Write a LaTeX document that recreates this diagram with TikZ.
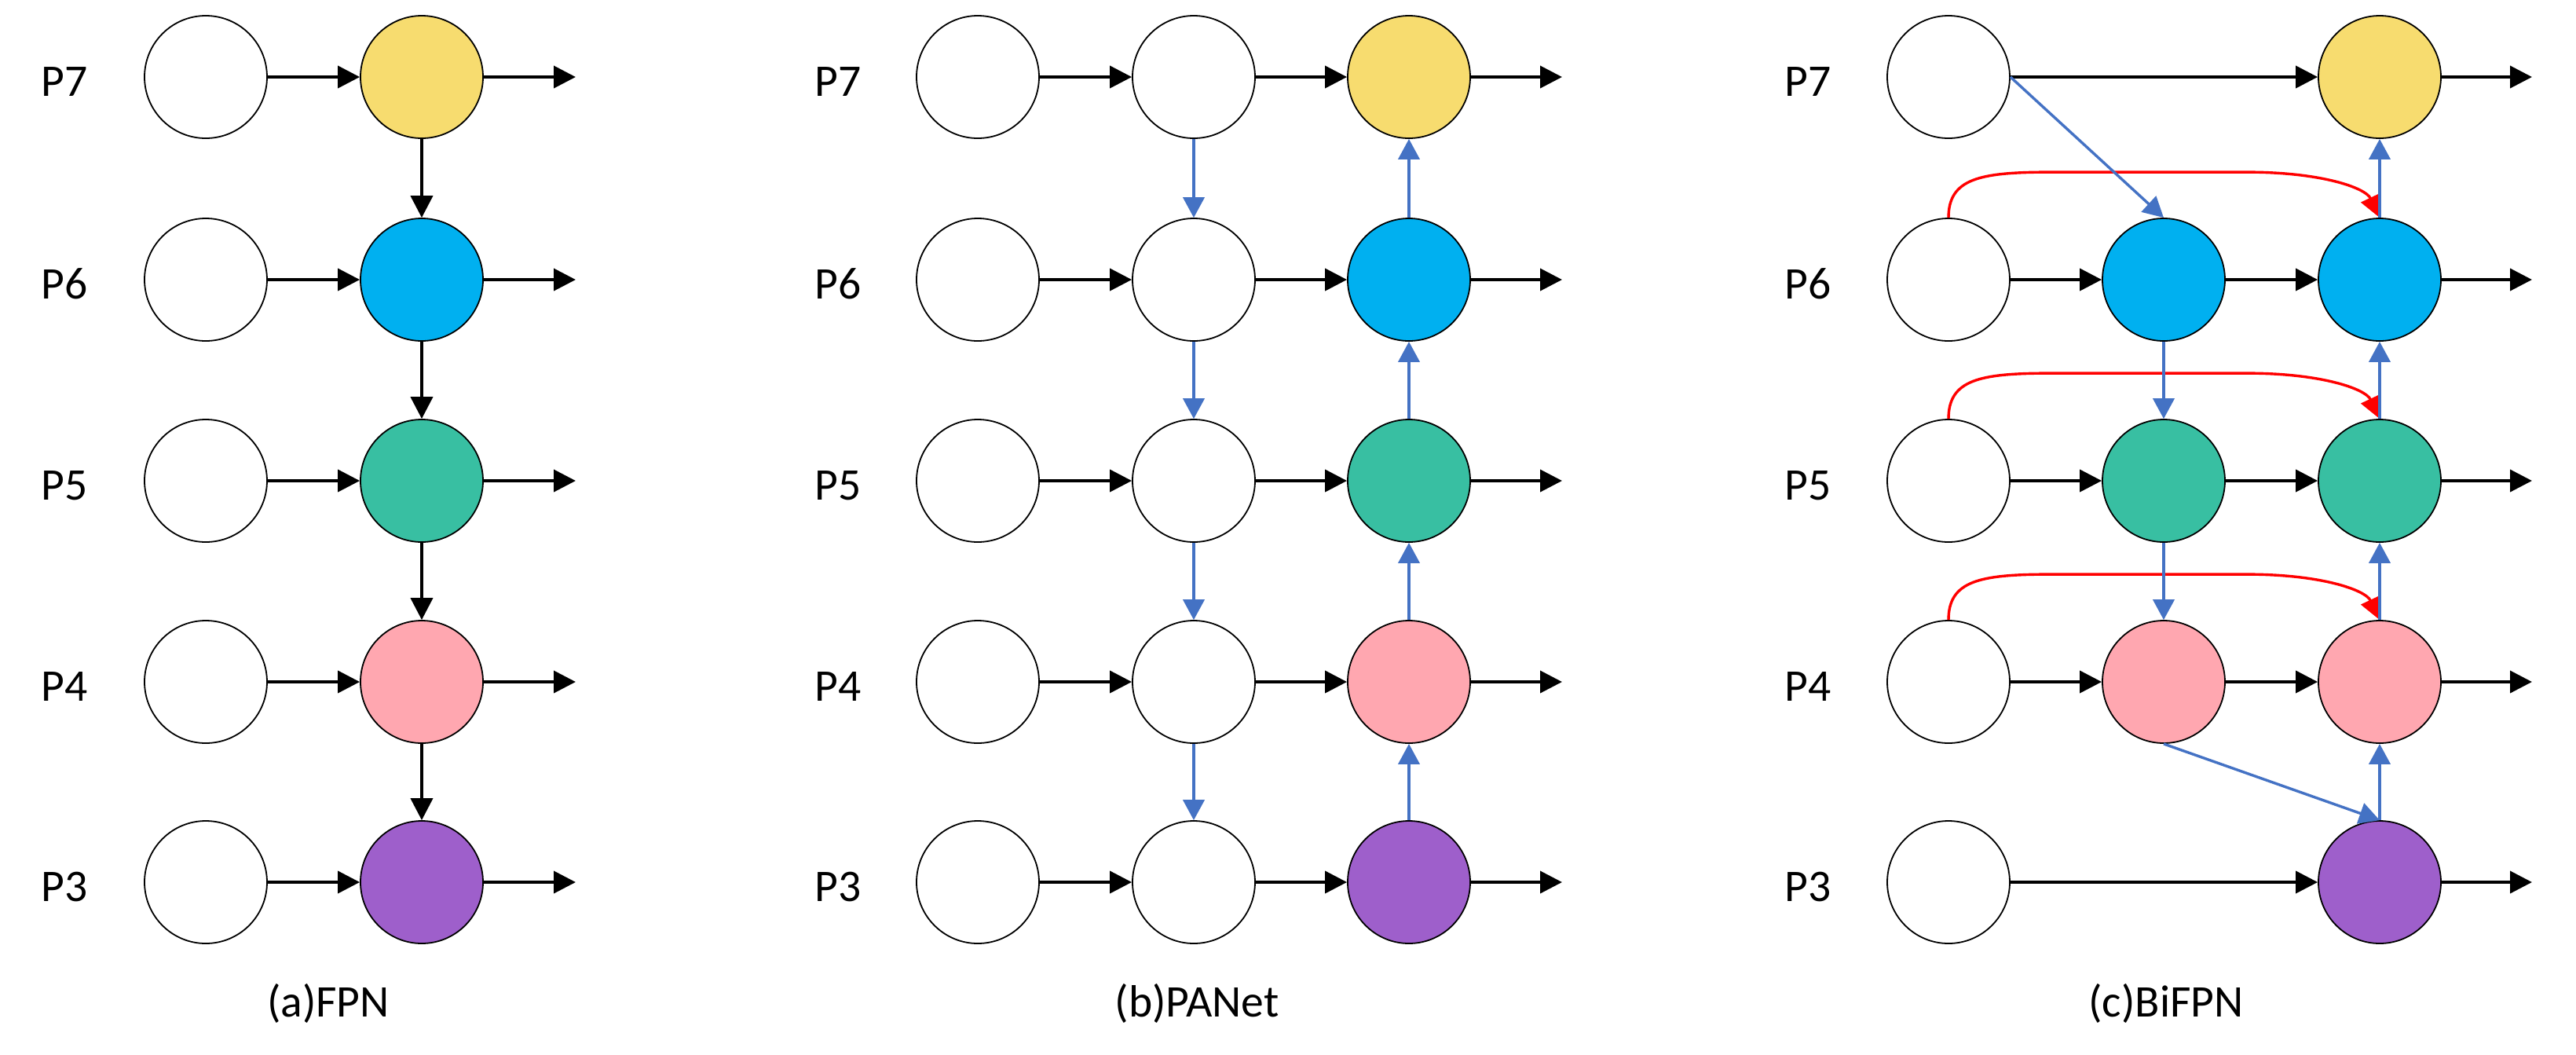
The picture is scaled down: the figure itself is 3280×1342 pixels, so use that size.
\documentclass[tikz,border=0pt]{standalone}
\usepackage{fontspec}
\setmainfont{Carlito}
\usetikzlibrary{arrows.meta}
\definecolor{cy}{HTML}{F7DC6F}
\definecolor{cb}{HTML}{00B0F0}
\definecolor{cg}{HTML}{38BFA2}
\definecolor{cp}{HTML}{FFA7B0}
\definecolor{cv}{HTML}{9E5FCB}
\definecolor{bl}{HTML}{4472C4}
\definecolor{rd}{HTML}{FF0000}
\tikzset{
  nd/.style={circle, draw=black, line width=0.45pt, minimum size=39pt, inner sep=0pt, fill=white},
  blk/.style={draw=black, line width=1pt, -{Triangle[length=7pt,width=7pt]}},
  blu/.style={draw=bl, line width=0.85pt, -{Triangle[length=6.5pt,width=6.8pt]}},
  red/.style={draw=rd, line width=0.85pt, -{Triangle[length=7pt,width=6.5pt]}},
  lab/.style={font=\fontsize{14.4}{17}\selectfont, anchor=base, inner sep=0pt},
}
\begin{document}
\begin{tikzpicture}[x=0.25pt,y=-0.25pt]
\useasboundingbox (0,0) rectangle (3280,1342);
% ---------- (a) FPN ----------
\foreach \r/\y/\c in {7/98/cy,6/356/cb,5/612/cg,4/868/cp,3/1123/cv}{
  \node[lab] (la\r) at (82,\y+24) {P\r};
  \node[nd] (a1\r) at (262,\y) {};
  \node[nd,fill=\c] (a2\r) at (537,\y) {};
  \coordinate (ao\r) at (733,\y);
  \draw[blk] (a1\r) -- (a2\r);
  \draw[blk] (a2\r) -- (ao\r);
}
\draw[blk] (a27) -- (a26);
\draw[blk] (a26) -- (a25);
\draw[blk] (a25) -- (a24);
\draw[blk] (a24) -- (a23);
\node[lab] (capa) at (418,1294) {(a)FPN};
% ---------- (b) PANet ----------
\foreach \r/\y/\c in {7/98/cy,6/356/cb,5/612/cg,4/868/cp,3/1123/cv}{
  \node[lab] (lb\r) at (1067,\y+24) {P\r};
  \node[nd] (b1\r) at (1245,\y) {};
  \node[nd] (b2\r) at (1520,\y) {};
  \node[nd,fill=\c] (b3\r) at (1794,\y) {};
  \coordinate (bo\r) at (1989,\y);
  \draw[blk] (b1\r) -- (b2\r);
  \draw[blk] (b2\r) -- (b3\r);
  \draw[blk] (b3\r) -- (bo\r);
}
\draw[blu] (b27) -- (b26);
\draw[blu] (b26) -- (b25);
\draw[blu] (b25) -- (b24);
\draw[blu] (b24) -- (b23);
\draw[blu] (b33) -- (b34);
\draw[blu] (b34) -- (b35);
\draw[blu] (b35) -- (b36);
\draw[blu] (b36) -- (b37);
\node[lab] (capb) at (1524,1294) {(b)PANet};
% ---------- (c) BiFPN ----------
\foreach \r/\y/\c in {7/98/cy,6/356/cb,5/612/cg,4/868/cp,3/1123/cv}{
  \node[lab] (lc\r) at (2302,\y+24) {P\r};
  \node[nd] (c1\r) at (2481,\y) {};
  \node[nd,fill=\c] (c3\r) at (3030,\y) {};
  \coordinate (co\r) at (3224,\y);
  \draw[blk] (c3\r) -- (co\r);
}
\foreach \r/\y/\c in {6/356/cb,5/612/cg,4/868/cp}{
  \node[nd,fill=\c] (c2\r) at (2755,\y) {};
  \draw[blk] (c1\r) -- (c2\r);
  \draw[blk] (c2\r) -- (c3\r);
  \draw[red] (c1\r.north) .. controls +(0,-50) and +(-90,0) .. ++(130,-58)
     -- ++(250,0) .. controls +(95,0) and +(-18,-38) .. (c3\r.north);
}
\draw[blk] (c17) -- (c37);
\draw[blk] (c13) -- (c33);
\draw[blu] (c17.east) -- (c26.north);
\draw[blu] (c26) -- (c25);
\draw[blu] (c25) -- (c24);
\draw[blu] (c24.south) -- (c33.north);
\draw[blu] (c33) -- (c34);
\draw[blu] (c34) -- (c35);
\draw[blu] (c35) -- (c36);
\draw[blu] (c36) -- (c37);
\node[lab] (capc) at (2758,1294) {(c)BiFPN};
\end{tikzpicture}
\end{document}
